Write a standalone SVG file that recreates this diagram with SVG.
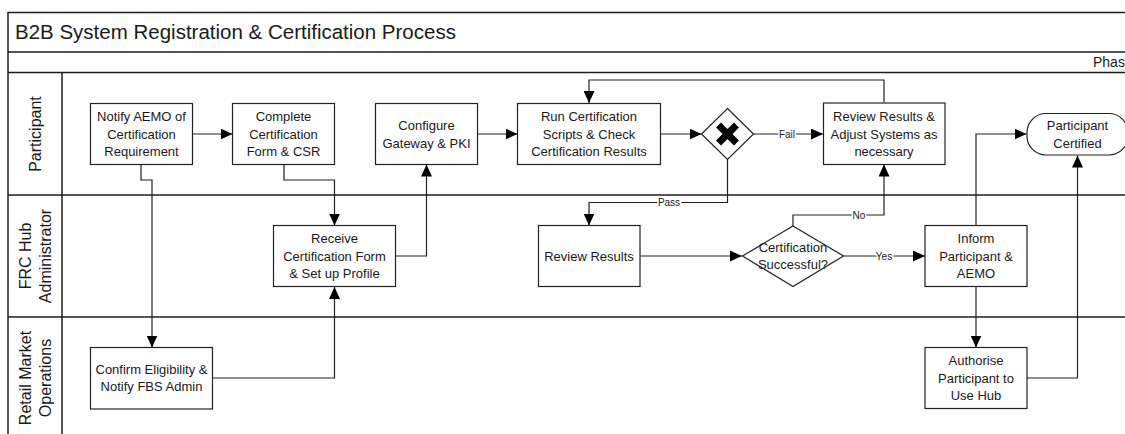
<svg xmlns="http://www.w3.org/2000/svg" width="1125" height="434" viewBox="0 0 1125 434">
<defs>
<style>
.frame{fill:none;stroke:#1e1e1e;stroke-width:1.5}
.box{fill:#fff;stroke:#222;stroke-width:1.2}
.t{font-family:"Liberation Sans",Arial,sans-serif;font-size:13px;fill:#1a1a1a;text-anchor:middle}
.lane{font-family:"Liberation Sans",Arial,sans-serif;font-size:16px;fill:#1a1a1a;text-anchor:middle;dominant-baseline:central}
.lbl{font-family:"Liberation Sans",Arial,sans-serif;font-size:10px;fill:#1a1a1a;text-anchor:middle;dominant-baseline:central;stroke:#fff;stroke-width:3;paint-order:stroke}
.c{fill:none;stroke:#222;stroke-width:1.2;marker-end:url(#ah)}
</style>
<marker id="ah" markerUnits="userSpaceOnUse" markerWidth="13" markerHeight="11" refX="12" refY="5.5" orient="auto">
<path d="M0,0 L12,5.5 L0,11 Z" fill="#000"/>
</marker>
</defs>
<rect width="1125" height="434" fill="#fff"/>
<g id="pool">
<path class="frame" d="M8,434 V12.5 H1125 M8,52 H1125 M8,72.5 H1125 M62,72.5 V434 M8,195 H1125 M8,317 H1125"/>
<text x="15" y="38.5" font-family="Liberation Sans, Arial, sans-serif" font-size="20.5" fill="#1a1a1a">B2B System Registration &amp; Certification Process</text>
<text x="1093" y="67" font-family="Liberation Sans, Arial, sans-serif" font-size="14" fill="#1a1a1a">Phas</text>
</g>
<g id="lane-participant"><text class="lane" transform="translate(35,134) rotate(-90)">Participant</text></g>
<g id="lane-frc"><text class="lane" transform="translate(25,256) rotate(-90)">FRC Hub</text><text class="lane" transform="translate(45,256) rotate(-90)">Administrator</text></g>
<g id="lane-rmo"><text class="lane" transform="translate(25,378) rotate(-90)">Retail Market</text><text class="lane" transform="translate(45,378) rotate(-90)">Operations</text></g>
<g id="connectors">
<path class="c" d="M192,134 H232.5"/>
<path class="c" d="M141,164 V180 H152 V347.5"/>
<path class="c" d="M284,164 V180 H334.5 V225.5"/>
<path class="c" d="M212,378 H334.5 V287"/>
<path class="c" d="M396,256 H426.5 V164.5"/>
<path class="c" d="M477,134 H517.5"/>
<path class="c" d="M661,134 H701.5"/>
<path class="c" d="M753.5,134 H823"/>
<path class="c" d="M884,102.5 V80 H589 V103"/>
<path class="c" d="M727.5,159.5 V202.5 H589 V225.5"/>
<path class="c" d="M640,256 H742"/>
<path class="c" d="M793,226 V215 H884 V164.5"/>
<path class="c" d="M843.5,256 H925"/>
<path class="c" d="M976,225.5 V134 H1026.5"/>
<path class="c" d="M976,287 V347.5"/>
<path class="c" d="M1027,378 H1077.5 V155.5"/>
<text class="lbl" x="787" y="134">Fail</text>
<text class="lbl" x="669" y="202.5">Pass</text>
<text class="lbl" x="859" y="215">No</text>
<text class="lbl" x="884" y="256">Yes</text>
</g>
<g id="notify">
<rect class="box" x="90.5" y="103.5" width="102" height="61"/>
<text class="t" x="141.5" y="121.3">Notify AEMO of</text><text class="t" x="141.5" y="138.8">Certification</text><text class="t" x="141.5" y="156.3">Requirement</text>
</g>
<g id="complete">
<rect class="box" x="232.5" y="103.5" width="102" height="61"/>
<text class="t" x="283.5" y="121.3">Complete</text><text class="t" x="283.5" y="138.8">Certification</text><text class="t" x="283.5" y="156.3">Form &amp; CSR</text>
</g>
<g id="configure">
<rect class="box" x="375.5" y="103.5" width="102" height="61"/>
<text class="t" x="426.5" y="130">Configure</text><text class="t" x="426.5" y="147.5">Gateway &amp; PKI</text>
</g>
<g id="run">
<rect class="box" x="517.5" y="103.5" width="143" height="61"/>
<text class="t" x="589" y="121.3">Run Certification</text><text class="t" x="589" y="138.8">Scripts &amp; Check</text><text class="t" x="589" y="156.3">Certification Results</text>
</g>
<g id="gateway">
<path class="box" d="M727.5,108.5 L753.5,134 L727.5,159.5 L701.5,134 Z"/>
<path d="M718.5,125 L736.5,143 M736.5,125 L718.5,143" stroke="#000" stroke-width="7"/>
</g>
<g id="review-adjust">
<rect class="box" x="823.5" y="103" width="121.5" height="61.5"/>
<text class="t" x="884" y="121.3">Review Results &amp;</text><text class="t" x="884" y="138.8">Adjust Systems as</text><text class="t" x="884" y="156.3">necessary</text>
</g>
<g id="certified">
<rect class="box" x="1027" y="113.5" width="101" height="41.5" rx="19"/>
<text class="t" x="1077.5" y="130">Participant</text><text class="t" x="1077.5" y="147.5">Certified</text>
</g>
<g id="receive">
<rect class="box" x="273.5" y="225.5" width="122" height="61"/>
<text class="t" x="334.5" y="243.3">Receive</text><text class="t" x="334.5" y="260.8">Certification Form</text><text class="t" x="334.5" y="278.3">&amp; Set up Profile</text>
</g>
<g id="review">
<rect class="box" x="538.5" y="225.5" width="101.5" height="61"/>
<text class="t" x="589" y="260.6">Review Results</text>
</g>
<g id="successful">
<path class="box" d="M793,226 L843.5,256 L793,286.5 L742.5,256 Z"/>
<text class="t" x="793" y="251.8">Certification</text><text class="t" x="793" y="269.3">Successful?</text>
</g>
<g id="inform">
<rect class="box" x="925" y="225.5" width="102" height="61"/>
<text class="t" x="976" y="243.3">Inform</text><text class="t" x="976" y="260.8">Participant &amp;</text><text class="t" x="976" y="278.3">AEMO</text>
</g>
<g id="confirm">
<rect class="box" x="90.5" y="347.5" width="122" height="61.5"/>
<text class="t" x="151.5" y="373.5">Confirm Eligibility &amp;</text><text class="t" x="151.5" y="391">Notify FBS Admin</text>
</g>
<g id="authorise">
<rect class="box" x="925" y="347.5" width="102" height="61"/>
<text class="t" x="976" y="365.3">Authorise</text><text class="t" x="976" y="382.8">Participant to</text><text class="t" x="976" y="400.3">Use Hub</text>
</g>
</svg>
